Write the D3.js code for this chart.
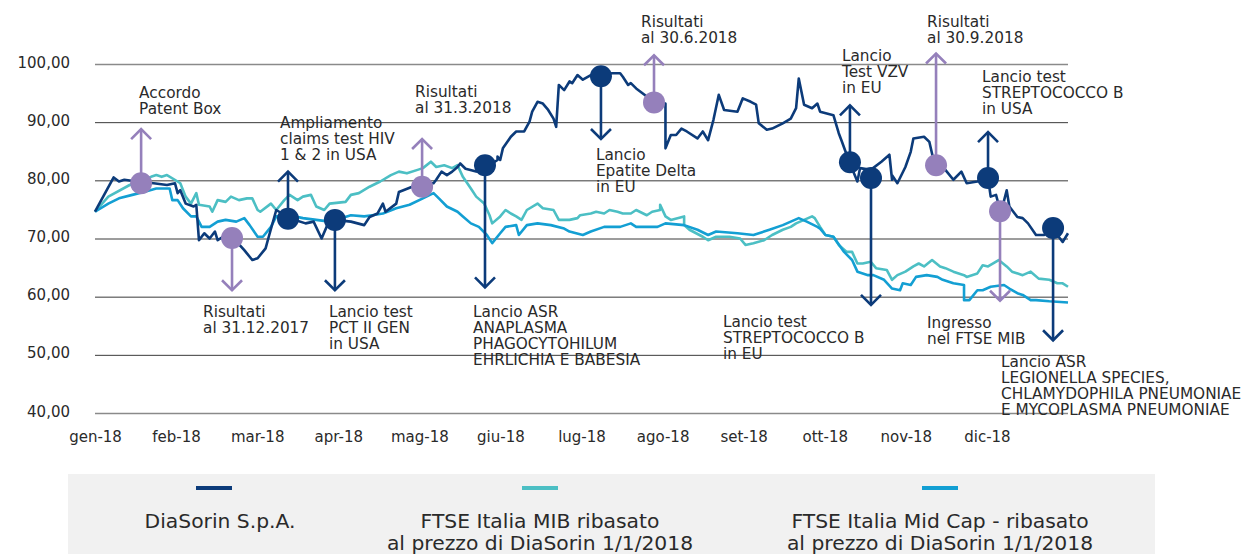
<!DOCTYPE html>
<html>
<head>
<meta charset="utf-8">
<script src="https://cdn.jsdelivr.net/npm/d3@7"></script>
<style>
  body { margin: 0; background: #fff; }
  svg text { font-family: "DejaVu Sans", sans-serif; fill: #2a2a2a; }
</style>
</head>
<body>
<svg id="chart" width="1256" height="554"></svg>
<script>
// month labels on the x axis (evenly spaced, one per month)
const monthLabels = ['gen-18','feb-18','mar-18','apr-18','mag-18','giu-18','lug-18','ago-18','set-18','ott-18','nov-18','dic-18'];
const yTicks = [40, 50, 60, 70, 80, 90, 100];

// [day of year, value]
const diasorin = [[0,74.6],[7,80.5],[9,79.8],[11,80.1],[17,79.7],[22,79.5],[27,79.2],[30,79.5],[31,77.8],[32,78.3],[34,76.0],[37,75.5],[38,75.8],[39,69.7],[41,70.9],[43,70.0],[45,71.2],[46,69.7],[48,70.3],[52,70.0],[56,68.0],[59,66.3],[61,66.6],[64,68.3],[65,70.0],[68,74.9],[73,73.5],[79,72.6],[82,72.9],[85,70.0],[88,73.2],[90,73.2],[96,72.9],[101,72.3],[103,73.7],[106,74.3],[108,76.0],[109,74.6],[113,76.0],[114,78.0],[119,78.9],[123,79.5],[127,79.5],[128,80.1],[130,81.5],[132,80.9],[134,81.5],[136,82.3],[137,82.9],[139,82.0],[143,81.5],[147,82.3],[151,83.5],[151,84.1],[152,83.5],[153,85.5],[156,87.5],[158,88.4],[161,88.4],[163,90.1],[164,91.8],[166,93.5],[168,93.2],[170,92.1],[172,90.6],[173,89.2],[174,96.4],[176,95.5],[178,97.0],[179,96.7],[181,98.1],[183,97.3],[186,98.1],[190,98.1],[194,98.4],[197,98.4],[198,97.8],[200,96.4],[201,96.7],[203,95.8],[207,94.4],[209,93.5],[214,93.2],[214,85.5],[216,87.8],[218,87.8],[220,88.9],[222,88.4],[226,87.2],[228,88.4],[230,86.9],[232,90.4],[234,94.7],[236,92.1],[241,91.8],[243,94.1],[246,93.5],[248,93.0],[249,89.8],[252,88.7],[254,88.9],[258,89.8],[261,90.6],[263,92.4],[264,97.5],[266,93.0],[269,92.4],[271,93.2],[272,91.8],[277,91.2],[279,88.1],[280,86.9],[283,83.1],[286,79.8],[287,82.1],[291,81.8],[295,83.2],[298,84.4],[299,80.1],[299,80.9],[301,79.5],[304,82.3],[306,84.9],[307,87.2],[311,87.5],[313,86.6],[315,82.6],[319,81.8],[322,80.1],[325,81.5],[327,79.5],[331,79.8],[335,80.4],[336,77.2],[338,77.5],[339,75.8],[340,74.7],[342,78.3],[343,75.5],[346,73.7],[348,73.5],[350,72.6],[353,70.6],[356,70.6],[359,71.8],[363,69.4],[365,70.9]];

const ftseMib = [[0,74.6],[5,77.2],[13,79.2],[21,80.6],[23,80.9],[25,80.6],[27,80.9],[31,79.8],[32,79.5],[34,77.2],[36,76.0],[38,77.8],[39,75.8],[43,75.5],[44,74.6],[46,76.6],[49,76.3],[51,77.2],[54,76.6],[57,76.9],[59,76.9],[61,74.9],[62,74.6],[66,76.0],[68,74.9],[71,76.6],[73,77.5],[76,76.6],[78,77.2],[81,77.5],[83,75.5],[86,74.9],[88,76.0],[94,76.3],[96,77.5],[99,77.8],[103,78.9],[107,79.8],[111,80.9],[114,81.5],[117,81.2],[121,81.8],[123,82.1],[126,83.2],[128,82.3],[131,82.6],[134,82.1],[136,82.6],[138,80.6],[141,78.6],[143,77.2],[146,76.0],[148,74.0],[149,72.6],[152,73.8],[154,74.9],[156,74.3],[158,73.8],[160,73.2],[162,74.9],[166,76.0],[168,75.2],[172,74.9],[174,73.2],[178,73.2],[181,73.5],[182,74.0],[186,74.3],[188,74.6],[191,74.3],[193,74.9],[196,74.6],[198,74.3],[201,74.3],[203,74.9],[207,74.0],[209,74.6],[212,74.9],[212,75.8],[214,73.8],[216,73.2],[221,73.8],[221,72.3],[223,71.5],[228,70.3],[230,69.7],[233,70.3],[238,70.3],[242,70.0],[244,68.9],[247,69.2],[251,69.7],[254,70.6],[258,71.5],[261,72.0],[263,72.6],[266,73.2],[269,73.8],[270,73.5],[272,72.0],[274,70.6],[277,70.3],[279,68.9],[282,67.7],[284,67.7],[286,65.7],[288,65.7],[291,66.0],[293,64.9],[297,64.6],[299,62.9],[301,63.7],[304,64.3],[307,65.2],[309,65.7],[311,65.2],[314,66.3],[317,65.2],[319,64.9],[322,64.3],[326,63.7],[327,63.4],[331,64.0],[333,65.4],[335,65.2],[339,66.3],[342,65.2],[344,64.3],[348,63.7],[351,64.3],[354,63.1],[358,62.9],[361,62.3],[363,62.3],[365,61.7]];

const ftseMidCap = [[0,74.6],[5,76.0],[9,76.9],[14,77.5],[19,78.1],[23,78.6],[28,78.6],[29,76.6],[31,76.6],[33,75.2],[36,73.8],[38,73.8],[40,72.0],[43,72.0],[46,72.9],[49,73.2],[53,72.9],[56,73.5],[58,72.3],[61,70.3],[63,70.3],[66,72.0],[68,73.8],[73,74.0],[78,73.5],[83,73.2],[88,72.9],[96,74.0],[101,73.8],[104,74.0],[108,74.3],[113,75.2],[118,75.8],[123,76.9],[127,77.8],[129,76.9],[132,75.5],[136,74.6],[138,73.8],[141,72.6],[144,72.0],[147,70.6],[149,69.2],[152,70.9],[154,72.0],[158,72.3],[159,70.6],[162,72.3],[166,72.6],[171,72.3],[176,71.7],[178,71.2],[183,70.6],[186,71.2],[191,72.0],[197,72.0],[201,72.6],[203,72.0],[211,72.0],[214,72.6],[221,72.3],[226,71.5],[230,70.6],[233,71.2],[241,70.9],[247,70.6],[253,71.5],[258,72.3],[264,73.5],[267,72.9],[271,72.0],[272,71.7],[274,70.6],[277,70.3],[281,67.7],[284,66.3],[286,64.3],[290,63.7],[292,63.7],[296,62.9],[299,61.4],[302,61.1],[303,62.3],[306,62.0],[308,63.4],[312,63.7],[316,63.4],[318,62.9],[322,62.3],[326,62.0],[326,59.4],[328,59.4],[331,61.1],[333,61.1],[336,61.7],[341,62.0],[343,61.4],[346,60.6],[348,60.3],[351,59.4],[353,59.4],[358,59.2],[365,59.0]];

// events: day, DiaSorin value at the dot, value where the arrow ends, type, text
const events = [
  { day: 17.3,  value: 79.5, tip: 88.8,  type: 'results', text: ['Accordo', 'Patent Box'] },
  { day: 51.4,  value: 70.1, tip: 61.1,  type: 'results', text: ['Risultati', 'al 31.12.2017'] },
  { day: 72.4,  value: 73.4, tip: 81.5,  type: 'launch',  text: ['Ampliamento', 'claims test HIV', '1 & 2 in USA'] },
  { day: 90.0,  value: 73.2, tip: 61.1,  type: 'launch',  text: ['Lancio test', 'PCT II GEN', 'in USA'] },
  { day: 122.7, value: 78.9, tip: 87.1,  type: 'results', text: ['Risultati', 'al 31.3.2018'] },
  { day: 146.3, value: 82.6, tip: 61.6,  type: 'launch',  text: ['Lancio ASR', 'ANAPLASMA', 'PHAGOCYTOHILUM', 'EHRLICHIA E BABESIA'] },
  { day: 189.8, value: 97.9, tip: 87.1,  type: 'launch',  text: ['Lancio', 'Epatite Delta', 'in EU'] },
  { day: 209.7, value: 93.4, tip: 101.5, type: 'results', text: ['Risultati', 'al 30.6.2018'] },
  { day: 283.2, value: 83.1, tip: 92.9,  type: 'launch',  text: ['Lancio', 'Test VZV', 'in EU'] },
  { day: 291.1, value: 80.4, tip: 58.6,  type: 'launch',  text: ['Lancio test', 'STREPTOCOCCO B', 'in EU'] },
  { day: 315.5, value: 82.6, tip: 101.8, type: 'results', text: ['Risultati', 'al 30.9.2018'] },
  { day: 335.0, value: 80.4, tip: 88.3,  type: 'launch',  text: ['Lancio test', 'STREPTOCOCCO B', 'in USA'] },
  { day: 339.5, value: 74.7, tip: 59.3,  type: 'results', text: ['Ingresso', 'nel FTSE MIB'] },
  { day: 359.4, value: 71.8, tip: 52.5,  type: 'launch',  text: ['Lancio ASR', 'LEGIONELLA SPECIES,', 'CHLAMYDOPHILA PNEUMONIAE', 'E MYCOPLASMA PNEUMONIAE'] }
];
// label placement relative to the dot (first baseline), pixels
const labelOffsets = [[-2,-85],[-29,79],[-8,-91],[-6,97],[-7,-90],[-12,152],[-5,84],[-13,-75],[-8,-101],[-148,149],[-9,-138],[-6,-96],[-73,117],[-52,139]];

const seriesNames = ['DiaSorin S.p.A.', 'FTSE Italia MIB ribasato|al prezzo di DiaSorin 1/1/2018', 'FTSE Italia Mid Cap - ribasato|al prezzo di DiaSorin 1/1/2018'];
const colors = { dia: '#0c3b7a', mib: '#4cbfc4', mid: '#139fd3', results: '#9580bb', launch: '#0c3b7a' };

const left = 95, right = 1068;
const x = d3.scaleLinear().domain([0, 365]).range([left, right]);
const y = d3.scaleLinear().domain([40, 100]).range([413, 64]);

const svg = d3.select('#chart');
const it = d3.formatLocale({ decimal: ',', thousands: '.', grouping: [3], currency: ['€', ''] });
const fmt = it.format('.2f');

// y axis + gridlines
const yAxis = svg.append('g')
  .attr('transform', `translate(${left},0)`)
  .call(d3.axisLeft(y).tickValues(yTicks).tickSize(-(right - left)).tickPadding(25).tickFormat(fmt));
yAxis.select('.domain').remove();
yAxis.selectAll('.tick line')
  .attr('stroke', d => (d === 100 || d === 40) ? '#8a8a8a' : '#3a3a3a')
  .attr('stroke-width', d => (d === 100 || d === 40) ? 1.6 : 1);
yAxis.selectAll('.tick text').attr('font-size', 15).attr('dy', '0.2em').style('font-family', '"DejaVu Sans", sans-serif').attr('fill', '#2a2a2a');

// x axis labels
const xAxis = svg.append('g')
  .attr('transform', `translate(0,${y(40)})`)
  .call(d3.axisBottom(x).tickValues(monthLabels.map((m, i) => i * 365 / 12)).tickSize(0).tickPadding(18)
    .tickFormat((d, i) => monthLabels[i]));
xAxis.select('.domain').remove();
xAxis.selectAll('.tick text').attr('font-size', 15).style('font-family', '"DejaVu Sans", sans-serif').attr('fill', '#2a2a2a');

// lines
const line = d3.line().x(d => x(d[0])).y(d => y(d[1]));
[[ftseMib, colors.mib], [ftseMidCap, colors.mid], [diasorin, colors.dia]].forEach(([data, c]) => {
  svg.append('path').datum(data)
    .attr('fill', 'none').attr('stroke', c).attr('stroke-width', 2.6)
    .attr('stroke-linejoin', 'round').attr('d', line);
});

// event arrows, dots and labels
const ev = svg.append('g').selectAll('g').data(events).join('g');
ev.append('line')
  .attr('x1', d => x(d.day)).attr('x2', d => x(d.day))
  .attr('y1', d => y(d.value)).attr('y2', d => y(d.tip))
  .attr('stroke', d => colors[d.type]).attr('stroke-width', 2.6);
ev.append('path')
  .attr('d', d => {
    const tx = x(d.day), ty = y(d.tip), s = d.tip > d.value ? 1 : -1;
    return `M${tx - 10},${ty + s * 10}L${tx},${ty}L${tx + 10},${ty + s * 10}`;
  })
  .attr('fill', 'none').attr('stroke', d => colors[d.type]).attr('stroke-width', 2.6);
ev.append('circle')
  .attr('cx', d => x(d.day)).attr('cy', d => y(d.value)).attr('r', 11)
  .attr('fill', d => colors[d.type]);
ev.append('text')
  .attr('font-size', 15.3)
  .attr('x', (d, i) => x(d.day) + labelOffsets[i][0])
  .attr('y', (d, i) => y(d.value) + labelOffsets[i][1])
  .selectAll('tspan').data((d, i) => d.text.map(t => ({ t, x: x(d.day) + labelOffsets[i][0] })))
  .join('tspan')
  .attr('x', d => d.x).attr('dy', (d, i) => i === 0 ? 0 : 16)
  .text(d => d.t);

// legend
const legend = svg.append('g');
legend.append('rect').attr('x', 68).attr('y', 474).attr('width', 1087).attr('height', 80).attr('fill', '#f1f1f1');
const legendCenters = [214, 540, 940];
const legendColors = [colors.dia, colors.mib, colors.mid];
seriesNames.forEach((name, i) => {
  legend.append('line')
    .attr('x1', legendCenters[i] - 18).attr('x2', legendCenters[i] + 18)
    .attr('y1', 488).attr('y2', 488)
    .attr('stroke', legendColors[i]).attr('stroke-width', 4);
  legend.append('text')
    .attr('text-anchor', 'middle').attr('font-size', 20.3)
    .selectAll('tspan').data(name.split('|')).join('tspan')
    .attr('x', legendCenters[i] + (i === 0 ? 6 : 0))
    .attr('y', (d, j) => 528 + j * 22)
    .text(d => d);
});
</script>
</body>
</html>
